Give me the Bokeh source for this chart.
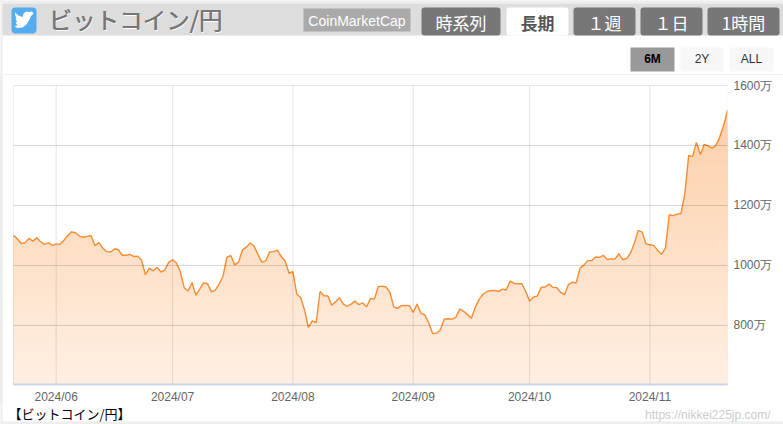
from datetime import datetime, timedelta
from bokeh.core.properties import value
from bokeh.embed import file_html
from bokeh.layouts import column
from bokeh.resources import INLINE
from bokeh.plotting import figure
from bokeh.models import (BoxAnnotation, Range1d, FixedTicker, DatetimeTickFormatter,
                          PrintfTickFormatter, Span)

price = [
 1101,1088,1073,1076,1090,1081,1092,1079,1070,1075,1067,1071,1071,1084,1100,1112,1109,1098,1094,1097,1099,
 1066,1076,1058,1046,1045,1055,1053,1034,1034,1037,1030,1031,1017,969,991,982,993,978,985,1010,1019,1008,
 978,925,915,943,901,921,942,939,912,918,938,964,1028,1033,1002,1011,1052,1061,1075,1065,1036,1011,1015,1045,
 1046,1051,1030,1015,974,979,904,893,851,793,815,809,913,899,898,867,879,892,871,863,871,881,869,875,862,890,
 888,929,931,928,910,862,857,866,867,866,843,871,840,835,809,773,774,785,821,822,821,827,855,847,836,824,860,
 887,904,913,916,917,913,921,918,948,940,939,939,913,881,894,898,927,928,938,927,926,910,903,936,944,942,991,
 1001,1016,1016,1028,1027,1034,1020,1022,1021,1039,1019,1023,1041,1074,1117,1111,1072,1069,1067,1050,1037,
 1058,1169,1166,1171,1173,1239,1367,1363,1410,1370,1404,1399,1391,1400,1428,1467,1517]
start = datetime(2024, 5, 21)
dates = [start + timedelta(days=i) for i in range(len(price))]
y_ticks = [800, 1000, 1200, 1400, 1600]
x_ticks = [datetime(2024, m, 1) for m in range(6, 12)]
tab_labels = ["時系列", "長期", "１週", "１日", "1時間"]
range_labels = ["6M", "2Y", "ALL"]

W, H = 783, 424
HEAD_H, FOOT_H = 74, 20
OVERLAP = 3           # the footer canvas slides this far under the chart canvas's empty bottom edge
CH_H = H - HEAD_H - FOOT_H + OVERLAP
LEFT = 2              # width of the grey strip at the page's left edge
L, R, T, B = 13, 727, 85, 384


def canvas(h, y0, **kw):
    f = figure(width=W, height=h, output_backend="svg", toolbar_location=None,
               x_range=Range1d(0, W), y_range=Range1d(y0 + h, y0), min_border=0, frame_align=False,
               background_fill_color="white", border_fill_color="white", outline_line_color=None, **kw)
    f.axis.visible = False
    f.grid.visible = False
    return f


def box(f, l, r, t, b, color, radius=0):
    f.add_layout(BoxAnnotation(left=l, right=r, top=t, bottom=b, fill_color=color, fill_alpha=1,
                               line_color=None, border_radius=radius, level="underlay"))


def label(f, x, y, s, size, color, font="Noto Sans CJK JP", style="normal", align="center"):
    f.text([x], [y], text=[s], text_font_size=f"{size}px", text_color=color, text_font=value(font),
           text_font_style=style, text_align=align, text_baseline="middle")


# header
h = canvas(HEAD_H, 0)
box(h, 0, W, 3, 0, "#eeeeee")
box(h, 0, 2, HEAD_H, 0, "#eeeeee")
box(h, 2, W, 35, 3, "#dddddd")
box(h, 11, 36, 33, 7, "#55acee", 4)
h.patch([14.5, 18, 22, 23, 26, 29, 31.5, 33, 31.5, 32.5, 30.5, 29, 26, 22, 17, 14, 17, 15, 16.5, 15, 16, 14.8],
        [12, 15, 16.5, 13, 11, 11.5, 11, 13, 14, 14, 15.5, 19, 24, 27, 27.5, 25.5, 25, 22, 21.5, 18, 18, 15],
        fill_color="white", line_color=None)
label(h, 49, 19.5, "ビットコイン/円", 23.5, "#ffffff", align="left")
label(h, 48, 18.5, "ビットコイン/円", 23.5, "#777777", align="left")
label(h, 48.5, 18.5, "ビットコイン/円", 23.5, "#777777", align="left")
box(h, 303, 410, 31, 8, "#aaaaaa")
label(h, 356.5, 20, "CoinMarketCap", 14, "#ffffff", "Liberation Sans")
tabs = [(421, 500, "#777777", "#ffffff"), (506, 568, "#ffffff", "#555555"), (573, 635, "#777777", "#ffffff"),
        (640, 702, "#777777", "#ffffff"), (707, 779, "#777777", "#ffffff")]
for (l, r, bg, fg), s in zip(tabs, tab_labels):
    box(h, l, r, 35, 7, bg, 3)
    label(h, (l + r) / 2, 22, s, 17, fg, style="bold" if bg == "#ffffff" else "normal")
btns = [(630, 674, "#999999", "#000000", "bold"), (680, 723, "#f7f7f7", "#333333", "normal"),
        (729, 773, "#f7f7f7", "#333333", "normal")]
for (l, r, bg, fg, st), s in zip(btns, range_labels):
    box(h, l, r, 71, 47, bg)
    label(h, (l + r) / 2, 58.5, s, 12, fg, "Liberation Sans", st)

# chart
p = figure(width=W - LEFT, height=CH_H, output_backend="svg", toolbar_location=None, x_axis_type="datetime",
           x_range=(dates[0], dates[-1]), y_range=(603, 1600), frame_align=False,
           min_border_left=L - LEFT, min_border_right=W - R, min_border_top=T - HEAD_H,
           min_border_bottom=HEAD_H + CH_H - B,
           y_axis_location="right", background_fill_color="white", border_fill_color="white",
           outline_line_color=None, margin=(0, 0, 0, LEFT))
C_TOP = (253, 208, 170)
C_BOT = (255, 240, 228)
N = 60
top_v, bot_v = 1517, 603
base = [603] * len(price)
for i in range(N):
    f = i / (N - 1)
    lvl = top_v + (bot_v - top_v) * f
    col = tuple(round(a + (b - a) * f) for a, b in zip(C_TOP, C_BOT))
    p.varea(x=dates, y1=base, y2=[min(v, lvl) for v in price], fill_color="#%02x%02x%02x" % col)
p.xgrid.visible = False
p.ygrid.visible = False
for d in [dates[0]] + x_ticks:
    p.add_layout(Span(location=d, dimension="height", line_color="#000000", line_alpha=0.1, line_width=1))
for v in y_ticks:
    p.add_layout(Span(location=v, dimension="width", line_color="#000000", line_alpha=0.16, line_width=1))
p.line(dates, price, line_color="#fa8c32", line_width=1.4)

xa = p.xaxis[0]
xa.ticker = FixedTicker(ticks=[d.timestamp() * 1000 for d in x_ticks])
xa.formatter = DatetimeTickFormatter(months="%Y/%m", days="%Y/%m", hours="%Y/%m")
xa.major_tick_line_color = None; xa.minor_tick_line_color = None
xa.axis_line_color = "#ccd6eb"; xa.axis_line_width = 2
xa.major_label_text_color = "#666666"; xa.major_label_text_font_size = "12px"
xa.major_label_text_font = "Liberation Sans"; xa.major_label_standoff = -1
ya = p.yaxis[0]
ya.ticker = FixedTicker(ticks=y_ticks)
ya.formatter = PrintfTickFormatter(format="%d万")
ya.major_tick_line_color = None; ya.minor_tick_line_color = None; ya.axis_line_color = None
ya.major_label_text_color = "#666666"; ya.major_label_text_font_size = "12px"
ya.major_label_text_font = "Liberation Sans"; ya.major_label_standoff = 0

# footer
ft = canvas(FOOT_H, H - FOOT_H, margin=(-OVERLAP, 0, 0, 0))
box(ft, 0, 2, H, 0, "#eeeeee")
box(ft, 0, W, H, 421, "#eeeeee")
label(ft, 8, 413, "【ビットコイン/円】", 13, "#000000", align="left")
label(ft, 770, 414, "https://nikkei225jp.com/", 12, "#cccccc", "Liberation Sans", align="right")

page = column(h, p, ft, spacing=0, styles={"background-color": "#eeeeee"})
open("out.html", "w").write(file_html(page, INLINE))
